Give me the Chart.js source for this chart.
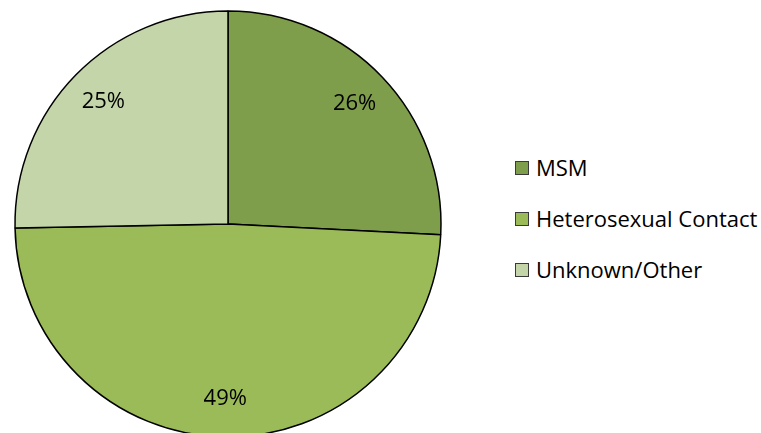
<!DOCTYPE html>
<html>
<head>
<meta charset="utf-8">
<script src="https://cdn.jsdelivr.net/npm/chart.js@4"></script>
<style>
    html, body { margin: 0; padding: 0; background: #fff; }
    body { width: 761px; height: 433px; overflow: hidden; position: relative; font-family: "Open Sans", sans-serif; }
    #pieBox { position: absolute; left: 0; top: 0; width: 456px; height: 448px; }
    #legend { position: absolute; left: 515px; top: 150px; }
    .item { height: 51px; display: flex; align-items: flex-start; font-size: 22px; color: #000; line-height: 34px; }
    .box { width: 12px; height: 12px; border: 1px solid #3a3a3a; margin-top: 11px; margin-right: 7px; flex: none; }
</style>
</head>
<body>
<div id="pieBox"><canvas id="pieChart"></canvas></div>
<div id="legend"></div>
<script>
const categories = ['MSM', 'Heterosexual Contact', 'Unknown/Other'];
const shares = [25.8, 48.9, 25.3];
const shareLabels = ['26%', '49%', '25%'];
const sliceColors = ['#7f9e4b', '#9bbb59', '#c4d6a9'];

// percentage text inside each slice
const sliceLabels = {
    id: 'sliceLabels',
    afterDatasetsDraw(chart) {
        const ctx = chart.ctx;
        const arcs = chart.getDatasetMeta(0).data;
        ctx.save();
        ctx.font = '22px "Open Sans"';
        ctx.fillStyle = '#000';
        ctx.textAlign = 'center';
        ctx.textBaseline = 'middle';
        arcs.forEach(function (arc, i) {
            const mid = (arc.startAngle + arc.endAngle) / 2;
            const r = arc.outerRadius * 0.82;
            ctx.fillText(shareLabels[i], arc.x + Math.cos(mid) * r, arc.y + Math.sin(mid) * r);
        });
        ctx.restore();
    }
};

new Chart(document.getElementById('pieChart'), {
    type: 'pie',
    data: {
        labels: categories,
        datasets: [{
            data: shares,
            backgroundColor: sliceColors,
            borderColor: '#000',
            borderWidth: 1.5
        }]
    },
    options: {
        responsive: true,
        maintainAspectRatio: false,
        animation: false,
        radius: 213,
        layout: { padding: 0 },
        plugins: {
            legend: { display: false },
            tooltip: { enabled: false }
        }
    },
    plugins: [sliceLabels]
});

const legend = document.getElementById('legend');
categories.forEach(function (name, i) {
    const row = document.createElement('div');
    row.className = 'item';
    const box = document.createElement('span');
    box.className = 'box';
    box.style.background = sliceColors[i];
    row.appendChild(box);
    row.appendChild(document.createTextNode(name));
    legend.appendChild(row);
});
</script>
</body>
</html>
